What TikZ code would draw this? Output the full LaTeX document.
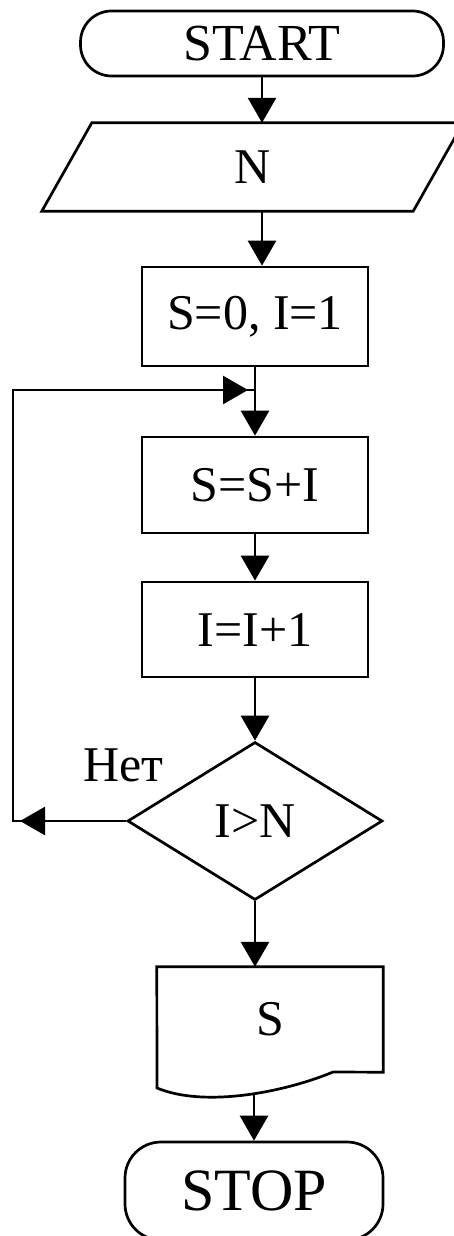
\documentclass[tikz,border=0pt]{standalone}
\usepackage{fontspec}
\setmainfont{Liberation Serif}
\usetikzlibrary{calc,shapes.geometric,arrows.meta}
\tikzset{
	line/.style={line width=2.7pt},
	arr/.style={line, -{Triangle[width=28pt,length=25pt]}},
	term/.style={line, draw, rounded corners=31pt},
	proc/.style={line, draw, minimum width=226pt, font=\fontsize{50}{60}\selectfont},
	txt/.style={inner sep=0pt, font=\fontsize{50}{60}\selectfont},
}

\begin{document}
\begin{tikzpicture}[x=1pt,y=-1pt]
		%%%%% START %%%%%
		\useasboundingbox (0,0) rectangle (454,1236);
		
		\node[term, minimum width=363pt, minimum height=65pt, font=\fontsize{52}{60}\selectfont] (start) at (262,43.5) {START};
		
		% input N
		\node[txt, minimum width=371pt, minimum height=88pt] (n) at (252.5,167) {N};
		\draw[line] ($(n.north west)+(25,0)$) -- ($(n.north east)+(25,0)$) -- ($(n.south east)+(-25,0)$) -- ($(n.south west)+(-25,0)$) -- cycle;
		
		% loop
		\node[proc, minimum height=99pt] (init) at (255,316.5) {S=0, I=1};
		\node[proc, minimum height=96pt] (sum) at (255,485) {S=S+I};
		\node[proc, minimum height=95pt] (inc) at (255,629.5) {I=I+1};
		\node[diamond, line, draw, inner sep=0pt, minimum width=255pt, minimum height=158pt, font=\fontsize{50}{60}\selectfont] (cond) at (255,821) {I>N};
		\node[txt] (no) at ($(cond.west)+(-3,-56)$) {Нет};
		
		% output S
		\node[txt, minimum width=226pt, minimum height=105pt] (out) at (270,1019.5) {S};
		\draw[line] (out.north west) -- (157,1088) .. controls (205,1108) and (285,1092) .. (333,1072) -- (out.south east) -- (out.north east) -- cycle;
		
		\node[term, rounded corners=36pt, minimum width=258pt, minimum height=98pt, font=\fontsize{60}{70}\selectfont] (stop) at (254,1191) {STOP};
		
		% connectors
		\coordinate (back) at (13,821);
		\coordinate (join) at (255,390);
		\coordinate (fold) at (254,1094);
		
		\draw[arr] (start) -- (start |- n.north);
		\draw[arr] (n.south -| start) -- (start |- init.north);
		\draw[arr] (init) -- (sum);
		\draw[arr] (sum) -- (inc);
		\draw[arr] (inc) -- (cond);
		\draw[line] (cond.west) -- (back) |- (join);
		\draw[arr] (cond.west) -- ($(back)+(7,0)$);
		\draw[arr] (back |- join) -- ($(join)+(-7,0)$);
		\draw[arr] (cond) -- (cond |- out.north);
		\draw[arr] (fold) -- (stop);
		%%%%% END %%%%%
\end{tikzpicture}
\end{document}
